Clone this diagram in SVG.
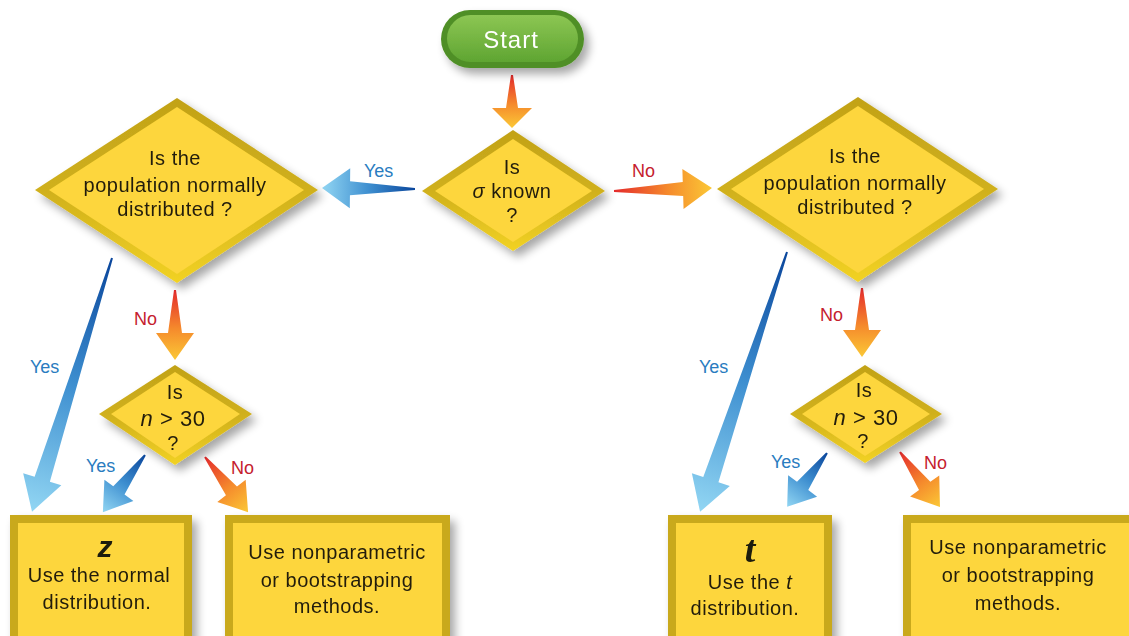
<svg xmlns="http://www.w3.org/2000/svg" width="1129" height="636" viewBox="0 0 1129 636">
<defs>
<linearGradient id="gRed" x1="0" y1="0" x2="1" y2="0"><stop offset="0" stop-color="#E42A2C"/><stop offset="0.55" stop-color="#F58A2C"/><stop offset="1" stop-color="#FBC836"/></linearGradient>
<linearGradient id="gBlue" x1="0" y1="0" x2="1" y2="0"><stop offset="0" stop-color="#0A469C"/><stop offset="0.5" stop-color="#3E8FD0"/><stop offset="1" stop-color="#92D6F3"/></linearGradient>
<linearGradient id="gBevel" x1="0" y1="0" x2="0" y2="1"><stop offset="0" stop-color="#C2A218"/><stop offset="0.5" stop-color="#D0B01C"/><stop offset="1" stop-color="#F2D224"/></linearGradient>
<linearGradient id="gGreen" x1="0" y1="0" x2="0" y2="1"><stop offset="0" stop-color="#8CC653"/><stop offset="1" stop-color="#5FA532"/></linearGradient>
<filter id="sh" x="-20%" y="-20%" width="150%" height="150%"><feGaussianBlur in="SourceAlpha" stdDeviation="5"/><feOffset dx="5" dy="6"/><feComponentTransfer><feFuncA type="linear" slope="0.35"/></feComponentTransfer><feMerge><feMergeNode/><feMergeNode in="SourceGraphic"/></feMerge></filter>
</defs>
<style>
.bev{fill:url(#gBevel)}
.face{fill:#FDD63C}
.boxo{fill:#C9A91A}
.t{font-family:"Liberation Sans",Arial,sans-serif;font-size:20px;letter-spacing:0.5px;fill:#221D0C;text-anchor:middle}
.yes{font-family:"Liberation Sans",Arial,sans-serif;font-size:18px;fill:#2A7CC0}
.no{font-family:"Liberation Sans",Arial,sans-serif;font-size:18px;fill:#C5202E}
.ar{fill:url(#gRed)}
.ab{fill:url(#gBlue)}
</style>
<rect width="1129" height="636" fill="#FFFFFF"/>

<g id="connectors">
<path class="ar" transform="translate(512,75) rotate(90)" d="M0,-1 L33,-6 L33,-20 L53,0 L33,20 L33,6 L0,1 Z"/>
<path class="ab" transform="translate(415,189) rotate(180.6)" d="M0,-1 L65,-7 L65,-20 L93,0 L65,20 L65,7 L0,1 Z"/>
<path class="ar" transform="translate(614,191) rotate(-1.7)" d="M0,-1 L69,-7 L69,-20 L98,0 L69,20 L69,7 L0,1 Z"/>
<path class="ar" transform="translate(175,290) rotate(90)" d="M0,-1 L43,-7 L43,-19 L70,0 L43,19 L43,7 L0,1 Z"/>
<path class="ab" transform="translate(112,258) rotate(107.5)" d="M0,-1 L232,-8 L232,-20 L266,0 L232,20 L232,8 L0,1 Z"/>
<path class="ab" transform="translate(145,455) rotate(126.4)" d="M0,-1 L44,-7 L44,-18 L71,0 L44,18 L44,7 L0,1 Z"/>
<path class="ar" transform="translate(205,457) rotate(52)" d="M0,-1 L43,-7 L43,-18 L70,0 L43,18 L43,7 L0,1 Z"/>
<path class="ab" transform="translate(787,252) rotate(108.5)" d="M0,-1 L240,-8 L240,-20 L274,0 L240,20 L240,8 L0,1 Z"/>
<path class="ar" transform="translate(862,288) rotate(90)" d="M0,-1 L42,-7 L42,-19 L69,0 L42,19 L42,7 L0,1 Z"/>
<path class="ab" transform="translate(827,453) rotate(126.5)" d="M0,-1 L41,-7 L41,-18 L67,0 L41,18 L41,7 L0,1 Z"/>
<path class="ar" transform="translate(900,452) rotate(54)" d="M0,-1 L42,-7 L42,-18 L68,0 L42,18 L42,7 L0,1 Z"/>
<text class="yes" x="364" y="177">Yes</text>
<text class="no" x="632" y="177">No</text>
<text class="no" x="134" y="325">No</text>
<text class="yes" x="30" y="373">Yes</text>
<text class="yes" x="86" y="472">Yes</text>
<text class="no" x="231" y="474">No</text>
<text class="no" x="820" y="321">No</text>
<text class="yes" x="699" y="373">Yes</text>
<text class="yes" x="771" y="468">Yes</text>
<text class="no" x="924" y="469">No</text>
</g>

<g id="start" filter="url(#sh)">
<rect x="441" y="10" width="143" height="58" rx="29" fill="#4F8F26"/>
<rect x="447" y="15" width="131" height="47" rx="23.5" fill="url(#gGreen)"/>
<text x="511" y="48" style="font-family:'Liberation Sans',Arial,sans-serif;font-size:24px;letter-spacing:1px;fill:#FFFFFF;text-anchor:middle">Start</text>
</g>

<g id="sigma" filter="url(#sh)">
<polygon class="bev" points="513,130 605,191 513,251 422,191"/>
<polygon class="face" points="513,139 592,191 513,242 435,191"/>
<text class="t" x="512" y="174">Is</text>
<text class="t" x="512" y="198"><tspan font-style="italic">σ</tspan> known</text>
<text class="t" x="512" y="222">?</text>
</g>

<g id="leftq" filter="url(#sh)">
<polygon class="bev" points="177,98 318,190 177,283 35,190"/>
<polygon class="face" points="177,107 304,190 177,274 49,190"/>
<text class="t" x="175" y="165">Is the</text>
<text class="t" x="175" y="192">population normally</text>
<text class="t" x="175" y="216">distributed ?</text>
</g>

<g id="rightq" filter="url(#sh)">
<polygon class="bev" points="858,97 998,189 858,282 717,189"/>
<polygon class="face" points="858,106 984,189 858,273 731,189"/>
<text class="t" x="855" y="163">Is the</text>
<text class="t" x="855" y="190">population normally</text>
<text class="t" x="855" y="214">distributed ?</text>
</g>

<g id="leftn" filter="url(#sh)">
<polygon class="bev" points="175,365 252,414 175,465 99,414"/>
<polygon class="face" points="175,372 240,414 175,458 111,414"/>
<text class="t" x="175" y="399">Is</text>
<text class="t" x="173" y="426" style="font-size:22px"><tspan font-style="italic">n</tspan> &gt; 30</text>
<text class="t" x="173" y="450">?</text>
</g>

<g id="rightn" filter="url(#sh)">
<polygon class="bev" points="865,365 942,414 865,463 790,414"/>
<polygon class="face" points="865,372 930,414 865,456 802,414"/>
<text class="t" x="864" y="397">Is</text>
<text class="t" x="866" y="425" style="font-size:22px"><tspan font-style="italic">n</tspan> &gt; 30</text>
<text class="t" x="863" y="448">?</text>
</g>

<g id="boxz" filter="url(#sh)">
<rect class="boxo" x="10" y="515" width="182" height="130"/>
<rect class="face" x="18" y="523" width="166" height="122"/>
<text x="105" y="557" style="font-family:'Liberation Sans',Arial,sans-serif;font-size:30px;font-weight:bold;font-style:italic;fill:#1E1A0C;text-anchor:middle">z</text>
<text class="t" x="99" y="582">Use the normal</text>
<text class="t" x="97" y="609">distribution.</text>
</g>

<g id="boxnp1" filter="url(#sh)">
<rect class="boxo" x="225" y="515" width="225" height="130"/>
<rect class="face" x="233" y="523" width="209" height="122"/>
<text class="t" x="337" y="559">Use nonparametric</text>
<text class="t" x="337" y="587">or bootstrapping</text>
<text class="t" x="337" y="613">methods.</text>
</g>

<g id="boxt" filter="url(#sh)">
<rect class="boxo" x="668" y="515" width="164" height="130"/>
<rect class="face" x="676" y="523" width="148" height="122"/>
<text x="750" y="562" style="font-family:'Liberation Serif','Times New Roman',serif;font-size:38px;font-weight:bold;font-style:italic;fill:#1E1A0C;text-anchor:middle">t</text>
<text class="t" x="750" y="589">Use the <tspan font-style="italic">t</tspan></text>
<text class="t" x="745" y="615">distribution.</text>
</g>

<g id="boxnp2" filter="url(#sh)">
<rect class="boxo" x="903" y="515" width="240" height="130"/>
<rect class="face" x="911" y="523" width="224" height="122"/>
<text class="t" x="1018" y="554">Use nonparametric</text>
<text class="t" x="1018" y="582">or bootstrapping</text>
<text class="t" x="1018" y="610">methods.</text>
</g>
</svg>
